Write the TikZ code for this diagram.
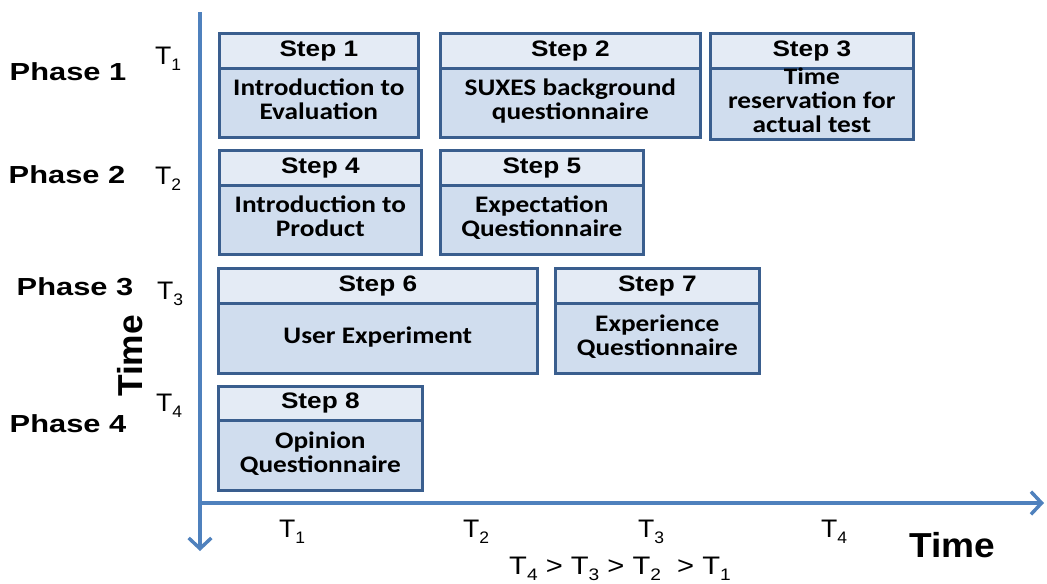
\documentclass[tikz,border=0pt]{standalone}
\usepackage{graphicx}
\usepackage{fontspec}
\setmainfont{Liberation Sans}
\newfontfamily\boxfont{Carlito}
\usetikzlibrary{arrows.meta}

\definecolor{axisblue}{HTML}{4F81BD}
\definecolor{edgeblue}{HTML}{3A5E8E}
\definecolor{headfill}{HTML}{E4EBF5}
\definecolor{bodyfill}{HTML}{D0DDEE}

% horizontally widened text
\newcommand{\widetext}[2]{\scalebox{#1}[1]{#2}}
% time mark with a lowered index
\newcommand{\tmark}[1]{T\raisebox{-0.45ex}{\fontsize{12.5}{12.5}\selectfont #1}}

% a step: header strip and body below it
% name, left, top, right, divider, bottom, title, body
\newcommand{\stepbox}[8]{%
  \node[headbox, anchor=north west,
        minimum width={(#4-#2)*0.75pt}, minimum height={(#5-#3)*0.75pt}]
        (#1h) at (#2,#3) {\widetext{1.17}{#7}};
  \node[bodybox, anchor=north west,
        minimum width={(#4-#2)*0.75pt}, minimum height={(#6-#5)*0.75pt}]
        (#1b) at (#2,#5) {\widetext{1.15}{\begin{tabular}{@{}c@{}}#8\end{tabular}}};
}

\tikzset{
  headbox/.style={draw=edgeblue, line width=2pt, fill=headfill, inner sep=0pt,
    font=\fontsize{16.8}{17}\selectfont\bfseries},
  bodybox/.style={draw=edgeblue, line width=2pt, fill=bodyfill, inner sep=0pt,
    font=\boxfont\fontsize{17.8}{17.8}\selectfont\bfseries},
  axis/.style={draw=axisblue, line width=3pt,
    -{Straight Barb[length=8pt, width=17pt, line width=2.6pt]}},
  phase/.style={font=\fontsize{18.5}{18.5}\selectfont\bfseries},
  tlabel/.style={font=\fontsize{19}{19}\selectfont},
  axistitle/.style={font=\fontsize{26}{26}\selectfont\bfseries}
}

\begin{document}
\begin{tikzpicture}[x=0.75pt, y=-0.75pt]
  \useasboundingbox (0,0) rectangle (1047,583);

  % axes
  \coordinate (ytop) at (200,12);
  \coordinate (ybot) at (200,551);
  \coordinate (xorg) at (198.5,503);
  \coordinate (xend) at (1044,503);
  \draw[axis] (ytop) -- (ybot);
  \draw[axis] (xorg) -- (xend);

  % steps
  \stepbox{s1}{218}{32}{417}{67}{136}{Step 1}{Introduction to\\Evaluation}
  \stepbox{s2}{439}{32}{699}{67}{136}{Step 2}{SUXES background\\questionnaire}
  \stepbox{s3}{709}{32}{912}{67}{136}{Step 3}{Time\\reservation for\\actual test}
  \stepbox{s4}{218}{149}{420}{184}{253}{Step 4}{Introduction to\\Product}
  \stepbox{s5}{439}{149}{642}{184}{253}{Step 5}{Expectation\\Questionnaire}
  \stepbox{s6}{217}{267}{536}{302}{372}{Step 6}{User Experiment}
  \stepbox{s7}{554}{267}{758}{302}{372}{Step 7}{Experience\\Questionnaire}
  \stepbox{s8}{217}{385}{421}{419}{489}{Step 8}{Opinion\\Questionnaire}

  % phases
  \node[phase] (p1) at (68,72) {\widetext{1.25}{Phase 1}};
  \node[phase] (p2) at (67,175) {\widetext{1.25}{Phase 2}};
  \node[phase] (p3) at (75,287) {\widetext{1.25}{Phase 3}};
  \node[phase] (p4) at (68,424) {\widetext{1.25}{Phase 4}};

  % time marks on the vertical axis
  \node[tlabel] (v1) at (168,59) {\widetext{1.05}{\tmark{1}}};
  \node[tlabel] (v2) at (168,179) {\widetext{1.05}{\tmark{2}}};
  \node[tlabel] (v3) at (170,294) {\widetext{1.05}{\tmark{3}}};
  \node[tlabel] (v4) at (169,406) {\widetext{1.05}{\tmark{4}}};

  % time marks on the horizontal axis
  \node[tlabel] (h1) at (292,532) {\widetext{1.05}{\tmark{1}}};
  \node[tlabel] (h2) at (476,532) {\widetext{1.05}{\tmark{2}}};
  \node[tlabel] (h3) at (651,532) {\widetext{1.05}{\tmark{3}}};
  \node[tlabel] (h4) at (834,532) {\widetext{1.05}{\tmark{4}}};

  % axis titles
  \node[axistitle, rotate=90] (ty) at (130,356) {\widetext{1.02}{Time}};
  \node[axistitle] (tx) at (952,545) {\widetext{1.07}{Time}};

  % ordering of the time marks
  \node[tlabel] (order) at (620,569)
    {\widetext{1.15}{\tmark{4} > \tmark{3} > \tmark{2} \ > \tmark{1}}};
\end{tikzpicture}
\end{document}
